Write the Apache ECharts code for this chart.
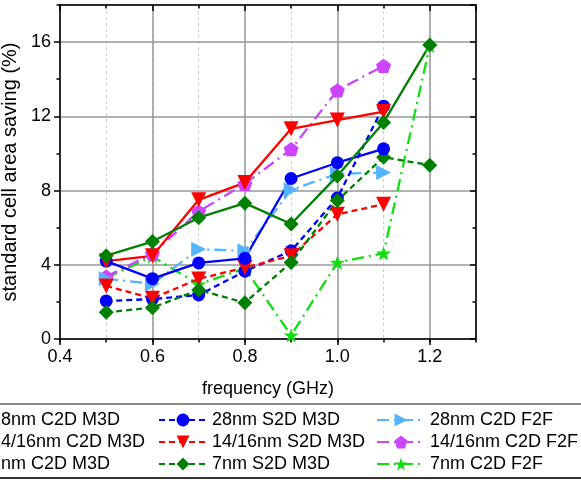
<!DOCTYPE html>
<html>
<head>
<meta charset="utf-8">
<script src="https://cdn.jsdelivr.net/npm/echarts@6/dist/echarts.min.js"></script>
<style>html,body{margin:0;padding:0;background:#fff;}#c{width:581px;height:480px;}</style>
</head>
<body>
<div id="c"></div>
<script>
// ---- data ----
const freqs = [0.5, 0.6, 0.7, 0.8, 0.9, 1.0, 1.1, 1.2];
const xTicks = [0.4, 0.6, 0.8, 1.0, 1.2];
const yTicks = [0, 4, 8, 12, 16];

const c2d28 = [4.2, 3.25, 4.1, 4.35, 8.65, 9.5, 10.25];
const c2d14 = [4.2, 4.48, 7.5, 8.43, 11.33, 11.8, 12.26];
const c2d7  = [4.49, 5.25, 6.54, 7.32, 6.2, 8.79, 11.67, 15.85];
const s2d28 = [2.05, 2.15, 2.37, 3.65, 4.75, 7.6, 12.55];
const s2d14 = [2.86, 2.19, 3.24, 3.85, 4.48, 6.72, 7.26];
const s2d7  = [1.44, 1.69, 2.64, 1.96, 4.12, 7.46, 9.8, 9.37];
const f2f28 = [3.25, 2.97, 4.84, 4.75, 8.04, 8.9, 8.97];
const f2f14 = [3.36, 4.6, 6.87, 8.36, 10.23, 13.4, 14.72];
const f2f7  = [3.3, 4.44, 2.95, 3.8, 0.2, 4.12, 4.62, 15.8];

const names = {
  c2d28: '28nm C2D M3D', c2d14: '14/16nm C2D M3D', c2d7: '7nm C2D M3D',
  s2d28: '28nm S2D M3D', s2d14: '14/16nm S2D M3D', s2d7: '7nm S2D M3D',
  f2f28: '28nm C2D F2F', f2f14: '14/16nm C2D F2F', f2f7: '7nm C2D F2F'
};

// ---- styles ----
const FONT = 'Liberation Sans, Arial, sans-serif';
const PENT = 'path://M0,-10 L9.51,-3.09 L5.88,8.09 L-5.88,8.09 L-9.51,-3.09 Z';
const STAR = 'path://M0,-10 L2.35,-3.24 L9.51,-3.09 L3.80,1.24 L5.88,8.09 L0,4 L-5.88,8.09 L-3.80,1.24 L-9.51,-3.09 L-2.35,-3.24 Z';
const DASH = [6, 4];
const DASHDOT = [12, 5, 2, 5];

function mk(name, vals, color, symbol, rot, size, type) {
  return {
    name: name, type: 'line',
    xAxisIndex: 0, yAxisIndex: 0,
    data: vals.map((v, i) => [freqs[i], v]),
    symbol: symbol, symbolSize: size, symbolRotate: rot, symbolKeepAspect: true,
    showAllSymbol: true,
    lineStyle: { color: color, width: 2.3, type: type },
    itemStyle: { color: color, borderWidth: 0 },
    emphasis: { disabled: true },
    animation: false
  };
}

const series = [
  mk(names.f2f7, f2f7, '#11DD11', STAR, 0, 15, DASHDOT),
  mk(names.f2f14, f2f14, '#CC44FF', PENT, 0, 15, DASHDOT),
  mk(names.f2f28, f2f28, '#55B4FF', 'triangle', -90, 15, DASHDOT),
  mk(names.s2d28, s2d28, '#0000FF', 'circle', 0, 13, DASH),
  mk(names.s2d14, s2d14, '#FF0000', 'triangle', 180, 15, DASH),
  mk(names.s2d7, s2d7, '#008000', 'diamond', 0, 15, DASH),
  mk(names.c2d28, c2d28, '#0000FF', 'circle', 0, 13, 'solid'),
  mk(names.c2d14, c2d14, '#FF0000', 'triangle', 180, 15, 'solid'),
  mk(names.c2d7, c2d7, '#008000', 'diamond', 0, 15, 'solid')
];

const X0 = xTicks[0], X1 = 1.3, Y0 = yTicks[0], Y1 = 18;
const black = { color: '#000', width: 1.5 };

function legend(left, data) {
  return {
    left: left, top: 409, orient: 'vertical', itemGap: 0, padding: 0,
    height: 70,
    itemWidth: 48, itemHeight: 16, selectedMode: false,
    data: data,
    textStyle: { fontSize: 18, fontFamily: FONT, color: '#000', lineHeight: 22 }
  };
}

const option = {
  backgroundColor: '#fff',
  animation: false,
  grid: { left: 60, right: 105, top: 5, bottom: 141, containLabel: false, outerBoundsMode: 'none' },
  xAxis: [
    { type: 'value', position: 'bottom', min: X0, max: X1, interval: 0.2, z: 1,
      axisLine: { show: true, onZero: false, lineStyle: black },
      axisTick: { show: true, inside: false, length: 6, lineStyle: black },
      axisLabel: { show: true, fontSize: 18, fontFamily: FONT, color: '#000', margin: 9,
        showMaxLabel: false, formatter: v => v.toFixed(1) },
      splitLine: { show: true, lineStyle: { color: '#999', width: 1.5 } },
      name: 'frequency (GHz)', nameLocation: 'middle', nameGap: 41,
      nameTextStyle: { fontSize: 18, fontFamily: FONT, color: '#000' } },
    { type: 'value', position: 'bottom', min: X0, max: X1, interval: 0.1, z: 0,
      axisLine: { show: false, onZero: false },
      axisTick: { show: true, inside: false, length: 3.5, lineStyle: black },
      axisLabel: { show: false },
      splitLine: { show: true, lineStyle: { color: '#cfcfcf', width: 1, type: [3, 3] } } },
    { type: 'value', position: 'top', min: X0, max: X1, interval: 0.2, z: 1,
      axisLine: { show: true, onZero: false, lineStyle: black },
      axisTick: { show: true, inside: true, length: 6, lineStyle: black },
      axisLabel: { show: false }, splitLine: { show: false } },
    { type: 'value', position: 'top', min: X0, max: X1, interval: 0.1, z: 1,
      axisLine: { show: false, onZero: false },
      axisTick: { show: true, inside: true, length: 3.5, lineStyle: black },
      axisLabel: { show: false }, splitLine: { show: false } }
  ],
  yAxis: [
    { type: 'value', position: 'left', min: Y0, max: Y1, interval: 4, z: 1,
      axisLine: { show: true, onZero: false, lineStyle: black },
      axisTick: { show: true, inside: false, length: 6, lineStyle: black },
      axisLabel: { show: true, fontSize: 18, fontFamily: FONT, color: '#000', margin: 9, showMaxLabel: false },
      splitLine: { show: true, lineStyle: { color: '#999', width: 1.5 } },
      name: 'standard cell area saving (%)', nameLocation: 'middle', nameGap: 28,
      nameTextStyle: { fontSize: 20, fontFamily: FONT, color: '#000' } },
    { type: 'value', position: 'left', min: Y0, max: Y1, interval: 2, z: 1,
      axisLine: { show: false, onZero: false },
      axisTick: { show: true, inside: false, length: 3.5, lineStyle: black },
      axisLabel: { show: false }, splitLine: { show: false } },
    { type: 'value', position: 'right', min: Y0, max: Y1, interval: 4, z: 1,
      axisLine: { show: true, onZero: false, lineStyle: black },
      axisTick: { show: true, inside: true, length: 6, lineStyle: black },
      axisLabel: { show: false }, splitLine: { show: false } },
    { type: 'value', position: 'right', min: Y0, max: Y1, interval: 2, z: 1,
      axisLine: { show: false, onZero: false },
      axisTick: { show: true, inside: true, length: 3.5, lineStyle: black },
      axisLabel: { show: false }, splitLine: { show: false } }
  ],
  legend: [
    legend(-63, [names.c2d28, names.c2d14, names.c2d7]),
    legend(158, [names.s2d28, names.s2d14, names.s2d7]),
    legend(376, [names.f2f28, names.f2f14, names.f2f7])
  ],
  graphic: [
    { type: 'line', shape: { x1: 0, y1: 404, x2: 581, y2: 404 }, style: { stroke: '#888', lineWidth: 2 } },
    { type: 'line', shape: { x1: 0, y1: 478, x2: 581, y2: 478 }, style: { stroke: '#333', lineWidth: 2 } }
  ],
  series: series
};

const chart = echarts.init(document.getElementById('c'), null, { renderer: 'canvas' });
chart.setOption(option);
</script>
</body>
</html>
